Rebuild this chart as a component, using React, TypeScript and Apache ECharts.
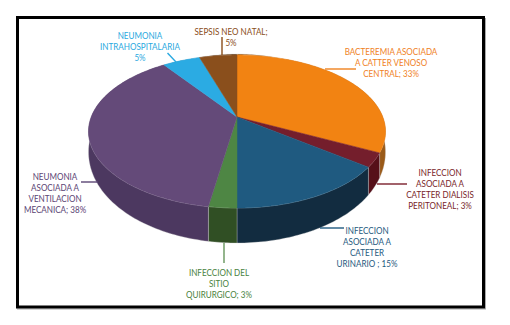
import React, { useEffect, useRef } from "react";
import * as echarts from "echarts";

// Slice order runs clockwise from 12 o'clock.
const categories = [
  "BACTEREMIA ASOCIADA\nA CATTER VENOSO\nCENTRAL; 33%",
  "INFECCION\nASOCIADA A\nCATETER DIALISIS\nPERITONEAL; 3%",
  "INFECCION\nASOCIADA A\nCATETER\nURINARIO ; 15%",
  "INFECCION DEL\nSITIO\nQUIRURGICO; 3%",
  "NEUMONIA\nASOCIADA A\nVENTILACION\nMECANICA; 38%",
  "NEUMONIA\nINTRAHOSPITALARIA\n5%",
  "SEPSIS NEO NATAL;\n5%",
];
// Slice sizes as measured on the drawn wedges (printed labels are rounded).
const values = [33, 3, 15, 2.6, 38.4, 5, 5];
const topColors = ["#f28312", "#741e2c", "#1f5a80", "#4e8644", "#644a79", "#2babe3", "#8a4f1c"];
const sideColors = ["#9a5a18", "#561019", "#122c40", "#304f24", "#4c3860", "#1c7aa5", "#5f3610"];
const textColors = ["#f0811e", "#7a1f2b", "#1f5a80", "#4a8240", "#5b4575", "#2aa9e0", "#8a4e1a"];
const labelCenters = [
  [391, 62.5], [440, 188.5], [367, 247], [219, 283], [55, 192.5], [140, 46], [231, 37],
];
const leaders = [
  [325, 69, 356, 69], [377, 184, 407, 184], [320, 228, 344, 228], [224, 243, 224, 263],
  [81, 182, 98, 182], [167.5, 53, 176, 62], [222, 37, 222, 55],
];

const CX = 237, CY = 117, A = 145.8, B = 73.7, K = 0.19;
const total = values.reduce((s, v) => s + v, 0);
const starts = values.map((_, i) => values.slice(0, i).reduce((s, v) => s + v, 0));

function top(theta: number) {
  const u = Math.sin(theta), v = -Math.cos(theta), w = 1 - K * v;
  return [CX + (A * u) / w, CY + (B * v) / w, v];
}
function bottom(theta: number) {
  const p = top(theta);
  return [p[0], p[1] + 17 + 18 * p[2]];
}
function arc(i: number, fn: (t: number) => number[]) {
  const a0 = (starts[i] / total) * Math.PI * 2;
  const a1 = ((starts[i] + values[i]) / total) * Math.PI * 2;
  const n = Math.max(2, Math.ceil((a1 - a0) / 0.02));
  const pts: number[][] = [];
  for (let k = 0; k <= n; k++) {
    const p = fn(a0 + ((a1 - a0) * k) / n);
    pts.push([p[0], p[1]]);
  }
  return pts;
}

export default function App() {
  const ref = useRef<HTMLDivElement>(null);
  useEffect(() => {
    document.body.style.margin = "0";
    document.body.style.background = "#fff";
    const chart = echarts.init(ref.current!, undefined, { renderer: "svg" });
    const data = values.map((v, i) => ({ value: v, name: categories[i] }));
    chart.setOption({
      animation: false,
      backgroundColor: "#fff",
      series: [
        {
          type: "custom",
          coordinateSystem: "none",
          silent: true,
          z: 1,
          data,
          renderItem: (params: any) => {
            const i = params.dataIndex;
            return {
              type: "polygon",
              shape: { points: [...arc(i, top), ...arc(i, bottom).reverse()] },
              style: { fill: sideColors[i], stroke: "rgba(205,205,205,0.55)", lineWidth: 0.6 },
            };
          },
        },
        {
          type: "custom",
          coordinateSystem: "none",
          silent: true,
          z: 2,
          data,
          renderItem: (params: any) => {
            const i = params.dataIndex;
            return {
              type: "polygon",
              shape: { points: [[CX, CY], ...arc(i, top)] },
              style: { fill: topColors[i], stroke: topColors[i], lineWidth: 0.5 },
            };
          },
        },
      ],
      graphic: [
        { type: "line", z: 5, shape: { x1: 17, y1: 309, x2: 486, y2: 309 }, style: { stroke: "#aaa", lineWidth: 1 } },
        { type: "line", z: 5, shape: { x1: 485.5, y1: 18, x2: 485.5, y2: 309 }, style: { stroke: "#aaa", lineWidth: 1 } },
        { type: "rect", z: 6, shape: { x: 17.5, y: 17.5, width: 466, height: 289.5 }, style: { fill: "none", stroke: "#000", lineWidth: 3 } },
        ...leaders.map((l, i) => ({
          type: "line",
          z: 7,
          shape: { x1: l[0], y1: l[1], x2: l[2], y2: l[3] },
          style: { stroke: textColors[i], lineWidth: 1.4, opacity: i === 3 ? 0.85 : 1 },
        })),
        ...categories.map((c, i) => ({
          type: "text",
          z: 8,
          x: labelCenters[i][0],
          y: labelCenters[i][1],
          scaleX: 0.87,
          style: {
            text: c,
            fill: textColors[i],
            font: '9.3px Lato',
            lineHeight: 11,
            textAlign: "center",
            textVerticalAlign: "middle",
          },
        })),
      ],
    });
    return () => chart.dispose();
  }, []);
  return <div ref={ref} style={{ width: 510, height: 325 }} />;
}
